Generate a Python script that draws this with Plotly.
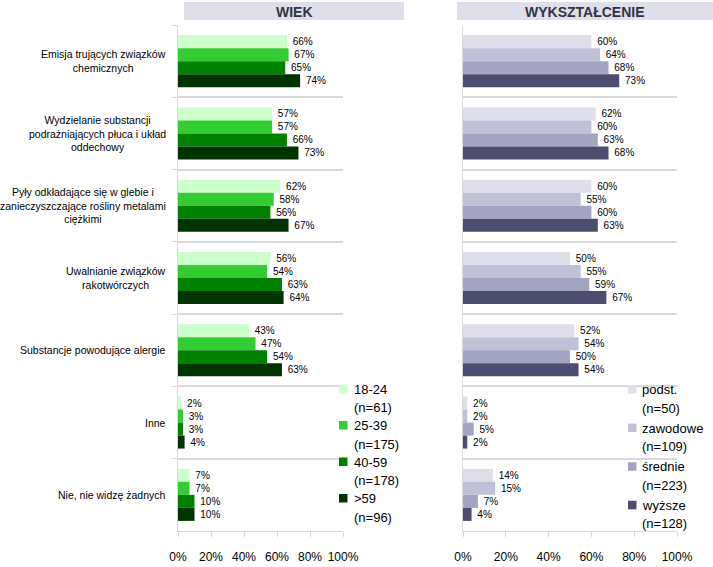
import plotly.graph_objects as go

# ---------------- data ----------------
categories = [
    "Emisja trujących związków<br>chemicznych",
    "Wydzielanie substancji<br>podrażniających płuca i układ<br>oddechowy",
    "Pyły odkładające się w glebie i<br>zanieczyszczające rośliny metalami<br>ciężkimi",
    "Uwalnianie związków<br>rakotwórczych",
    "Substancje powodujące alergie",
    "Inne",
    "Nie, nie widzę żadnych",
]

age_groups = ["18-24", "25-39", "40-59", ">59"]
age_n = [61, 175, 178, 96]
age_18_24 = [66, 57, 62, 56, 43, 2, 7]
age_25_39 = [67, 57, 58, 54, 47, 3, 7]
age_40_59 = [65, 66, 56, 63, 54, 3, 10]
age_59plus = [74, 73, 67, 64, 63, 4, 10]

edu_groups = ["podst.", "zawodowe", "średnie", "wyższe"]
edu_n = [50, 109, 223, 128]
edu_podst = [60, 62, 60, 50, 52, 2, 14]
edu_zawodowe = [64, 60, 55, 55, 54, 2, 15]
edu_srednie = [68, 63, 60, 59, 50, 5, 7]
edu_wyzsze = [73, 68, 63, 67, 54, 2, 4]

x_tick_values = [0, 20, 40, 60, 80, 100]
x_tick_labels = ["0%", "20%", "40%", "60%", "80%", "100%"]
panel_titles = ["WIEK", "WYKSZTAŁCENIE"]

# ---------------- styles ----------------
age_colors = ["#ccffcc", "#33cc33", "#008000", "#003300"]
edu_colors = ["#dfdfea", "#c0c0d6", "#a3a3c2", "#4d4d70"]
FONT = "Liberation Sans, Arial, sans-serif"
W, H = 713, 567
GRID = "#d9d9d9"


def px(x):
    return x / W


def py(y):
    return 1 - y / H


fig = go.Figure()

age_series = [age_18_24, age_25_39, age_40_59, age_59plus]
edu_series = [edu_podst, edu_zawodowe, edu_srednie, edu_wyzsze]

for name, vals, col in zip(age_groups, age_series, age_colors):
    fig.add_trace(go.Bar(
        x=vals, y=categories, orientation="h", name=name,
        marker=dict(color=col, line=dict(width=0)),
        text=[f"\u00a0{v}%" for v in vals], textposition="outside",
        textfont=dict(family=FONT, size=10, color="#000000"),
        cliponaxis=False, constraintext="none", showlegend=False,
        xaxis="x", yaxis="y", hoverinfo="x+y+name",
    ))

for name, vals, col in zip(edu_groups, edu_series, edu_colors):
    fig.add_trace(go.Bar(
        x=vals, y=categories, orientation="h", name=name,
        marker=dict(color=col, line=dict(width=0)),
        text=[f"\u00a0{v}%" for v in vals], textposition="outside",
        textfont=dict(family=FONT, size=10, color="#000000"),
        cliponaxis=False, constraintext="none", showlegend=False,
        xaxis="x2", yaxis="y2", hoverinfo="x+y+name",
    ))

ydom = [py(531), py(25)]
xaxis_common = dict(
    range=[0, 100], tickmode="array", tickvals=x_tick_values, ticktext=x_tick_labels,
    showgrid=False, zeroline=False, showline=True, linecolor=GRID, linewidth=1,
    ticks="outside", ticklen=5, tickcolor=GRID, ticklabelstandoff=10,
    tickfont=dict(family=FONT, size=12, color="#000000"), fixedrange=True,
    automargin=False,
)
yaxis_common = dict(
    type="category", categoryorder="array", categoryarray=categories,
    range=[len(categories) - 0.5, -0.5], tickson="boundaries",
    showgrid=True, gridcolor=GRID, gridwidth=1.5,
    showline=True, linecolor=GRID, linewidth=1,
    showticklabels=False, zeroline=False, fixedrange=True, domain=ydom,
    automargin=False,
)

fig.update_layout(
    width=W, height=H, autosize=False, margin=dict(l=0, r=0, t=0, b=0, pad=0),
    paper_bgcolor="white", plot_bgcolor="white",
    barmode="group", bargap=0.28, bargroupgap=0,
    font=dict(family=FONT, color="#000000"),
    xaxis=dict(domain=[px(178), px(343)], anchor="y", **xaxis_common),
    yaxis=dict(anchor="x", ticks="outside", ticklen=5, tickcolor=GRID, **yaxis_common),
    xaxis2=dict(domain=[px(463), px(677)], anchor="y2", **xaxis_common),
    yaxis2=dict(anchor="x2", ticks="", **yaxis_common),
    showlegend=False,
)

shapes = []
annotations = []

# panel title boxes
for title, (x0, x1) in zip(panel_titles, [(184, 404), (457, 713)]):
    shapes.append(dict(type="rect", xref="paper", yref="paper",
                       x0=px(x0), x1=px(x1), y0=py(20), y1=py(2),
                       fillcolor="#dfdfe9", line=dict(width=0), layer="below"))
    annotations.append(dict(xref="paper", yref="paper", x=px((x0 + x1) / 2), y=py(11.5),
                            text=f"<b>{title}</b>", showarrow=False,
                            xanchor="center", yanchor="middle",
                            font=dict(family=FONT, size=14, color="#333344")))

# category labels (left of the left panel)
for i, cat in enumerate(categories):
    annotations.append(dict(xref="x domain", yref="y", x=0, y=i, text=cat,
                            showarrow=False, xanchor="right", yanchor="middle",
                            xshift=-10, align="center",
                            font=dict(family=FONT, size=10.5, color="#000000")))

# legends
legend_specs = [
    (age_groups, age_n, age_colors, 339, 352, 384.5, 36.5),
    (edu_groups, edu_n, edu_colors, 628, 640, 385, 38.6),
]
for names, ns, cols, mx, tx, top, step in legend_specs:
    for i, (nm, n, col) in enumerate(zip(names, ns, cols)):
        y0 = top + i * step
        shapes.append(dict(type="rect", xref="paper", yref="paper",
                           x0=px(mx), x1=px(mx + 8.5), y0=py(y0 + 8.5), y1=py(y0),
                           fillcolor=col, line=dict(width=0)))
        annotations.append(dict(xref="paper", yref="paper", x=px(tx), y=py(y0 + 4.5),
                                text=nm, showarrow=False, xanchor="left", yanchor="middle",
                                font=dict(family=FONT, size=13, color="#000000")))
        annotations.append(dict(xref="paper", yref="paper", x=px(tx), y=py(y0 + 23),
                                text=f"(n={n})", showarrow=False, xanchor="left", yanchor="middle",
                                font=dict(family=FONT, size=13, color="#000000")))

fig.update_layout(shapes=shapes, annotations=annotations)

fig.write_html(
    "out.html",
    config={"displayModeBar": False, "responsive": False},
    post_script=(
        "document.documentElement.style.margin='0';"
        "document.documentElement.style.overflow='hidden';"
        "document.body.style.margin='0';document.body.style.padding='0';"
        "document.body.style.overflow='hidden';"
    ),
)
